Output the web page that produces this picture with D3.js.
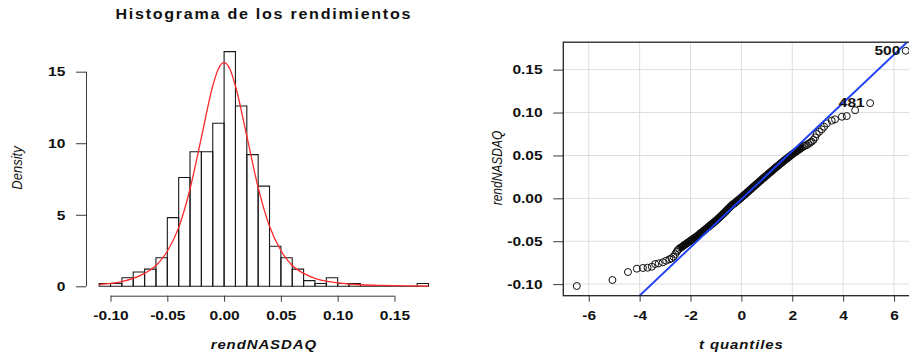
<!DOCTYPE html>
<html>
<head>
<meta charset="utf-8">
<script src="https://cdn.jsdelivr.net/npm/d3@7"></script>
<style>
  html, body { margin: 0; padding: 0; background: #fff; }
  svg { display: block; font-family: "Liberation Sans", Arial, sans-serif; }
</style>
</head>
<body>
<svg id="chart" width="909" height="354"></svg>
<script>
// ---- histogram data (bin width 0.01) ----
const binStart = [-0.11, -0.10, -0.09, -0.08, -0.07, -0.06, -0.05, -0.04, -0.03, -0.02,
  -0.01, 0.00, 0.01, 0.02, 0.03, 0.04, 0.05, 0.06, 0.07, 0.08,
  0.09, 0.10, 0.11, 0.12, 0.13, 0.14, 0.15, 0.16, 0.17];
const binDensity = [0.2, 0.2, 0.6, 1.0, 1.2, 2.0, 4.8, 7.6, 9.4, 9.4,
  11.4, 16.4, 12.6, 9.2, 7.0, 2.8, 2.0, 1.2, 0.4, 0.2,
  0.6, 0.2, 0.2, 0, 0, 0, 0, 0, 0.2];
const binWidth = 0.01;

// fitted density curve (red)
const curveX = [-0.11, -0.10, -0.09, -0.08, -0.07, -0.06, -0.05, -0.04, -0.03, -0.02,
  -0.01, -0.005, 0.00, 0.005, 0.01, 0.02, 0.03, 0.04, 0.05, 0.06,
  0.07, 0.08, 0.09, 0.10, 0.11, 0.12, 0.14, 0.16, 0.18];
const curveY = [0.12, 0.2, 0.33, 0.55, 0.9, 1.45, 2.45, 4.1, 6.8, 10.4,
  14.0, 15.2, 15.65, 15.2, 14.0, 10.5, 6.9, 4.2, 2.5, 1.45,
  0.9, 0.56, 0.36, 0.24, 0.16, 0.11, 0.06, 0.03, 0.02];

const histXTicks = [-0.10, -0.05, 0.00, 0.05, 0.10, 0.15];
const histYTicks = [0, 5, 10, 15];

// ---- QQ plot data ----
const qqTheo = [
  -6.47, -5.07, -4.46, -4.11, -3.87, -3.69, -3.52, -3.39, -3.25, -3.09,
  -2.96, -2.83, -2.75, -2.67, -2.60, -2.54, -2.50,
  -2.45, -2.38, -2.31, -2.24, -2.17, -2.10, -2.03, -1.96, -1.89, -1.82,
  -1.75, -1.68, -1.61, -1.54, -1.47, -1.40, -1.33, -1.26, -1.19, -1.12,
  -1.05, -0.98, -0.91, -0.84, -0.77, -0.70, -0.63, -0.56, -0.49, -0.42,
  -0.35, -0.28, -0.21, -0.14, -0.07, 0.00, 0.07, 0.14, 0.21, 0.28,
  0.35, 0.42, 0.49, 0.56, 0.63, 0.70, 0.77, 0.84, 0.91, 0.98,
  1.05, 1.12, 1.19, 1.26, 1.33, 1.40, 1.47, 1.54, 1.61, 1.68,
  1.75, 1.82, 1.89, 1.96, 2.03, 2.10, 2.17, 2.24, 2.31, 2.38, 2.45,
  2.50, 2.57, 2.63, 2.70, 2.76, 2.83, 2.90, 2.96, 3.06, 3.16,
  3.25, 3.36, 3.55, 3.68, 3.95, 4.14, 4.47, 5.06, 6.46];
const qqSample = [
  -0.1022, -0.0952, -0.0859, -0.0820, -0.0812, -0.0809, -0.0797, -0.0766, -0.0758, -0.0746,
  -0.0727, -0.0711, -0.0700, -0.0680, -0.0650, -0.0622, -0.0605,
  -0.0588, -0.0574, -0.0559, -0.0544, -0.0530, -0.0515, -0.0500, -0.0486, -0.0471, -0.0456,
  -0.0442, -0.0427, -0.0407, -0.0393, -0.0375, -0.0358, -0.0342, -0.0324, -0.0306, -0.0290,
  -0.0273, -0.0255, -0.0236, -0.0216, -0.0196, -0.0177, -0.0157, -0.0135, -0.0113, -0.0093,
  -0.0073, -0.0059, -0.0041, -0.0024, -0.0008, 0.0010, 0.0028, 0.0045, 0.0064, 0.0083,
  0.0101, 0.0120, 0.0138, 0.0156, 0.0175, 0.0193, 0.0211, 0.0230, 0.0248, 0.0265,
  0.0283, 0.0301, 0.0318, 0.0336, 0.0354, 0.0371, 0.0388, 0.0405, 0.0422, 0.0439,
  0.0456, 0.0471, 0.0488, 0.0505, 0.0520, 0.0535, 0.0550, 0.0564, 0.0579, 0.0594, 0.0608,
  0.0615, 0.0621, 0.0635, 0.0648, 0.0660, 0.0680, 0.0711, 0.0749, 0.0776, 0.0804,
  0.0835, 0.0874, 0.0905, 0.0921, 0.0951, 0.0959, 0.1027, 0.1110, 0.1720];
// dense middle part of the cloud (where the circles merge into a band)
const bandFrom = -2.45, bandTo = 2.45;

const qqLabelText = ['481', '500'];
const qqLabelTheo = [5.06, 6.46];
const qqLabelSample = [0.1110, 0.1720];

const qqLineIntercept = -0.001;
const qqLineSlope = 0.0281;

const qqXTicks = [-6, -4, -2, 0, 2, 4, 6];
const qqYTicks = [-0.10, -0.05, 0.00, 0.05, 0.10, 0.15];

// ---- drawing ----
const svg = d3.select('#chart');
const stretch = 1.15;   // the picture is a bit wider than tall text
const axisColor = '#3a3a3a';

const plotTop = 42.2, plotBottom = 295.7;

function hText(x, y, txt, size, opts = {}) {
  return svg.append('text')
    .attr('transform', `translate(${x},${y}) scale(${stretch},1)`)
    .attr('text-anchor', opts.anchor || 'middle')
    .attr('font-size', size)
    .attr('font-weight', opts.weight || 'bold')
    .attr('font-style', opts.style || 'normal')
    .attr('letter-spacing', opts.spacing || 0)
    .attr('fill', '#111')
    .text(txt);
}

function vText(x, y, txt, size) {
  return svg.append('text')
    .attr('transform', `translate(${x},${y}) rotate(-90) scale(1,${stretch})`)
    .attr('text-anchor', 'middle')
    .attr('font-size', size)
    .attr('font-style', 'italic')
    .attr('fill', '#111')
    .text(txt);
}

function styleAxis(g) {
  g.select('.domain').remove();
  g.attr('color', axisColor);
  g.selectAll('line').attr('stroke-width', 1);
  g.selectAll('text')
    .attr('fill', '#111')
    .attr('font-size', 13.5)
    .attr('font-weight', 'bold')
    .attr('font-family', '"Liberation Sans", Arial, sans-serif')
    .attr('transform', `scale(${stretch},1)`);
}

// ===== left: histogram =====
const xH = d3.scaleLinear().domain([-0.1216, 0.1916]).range([86, 441.7]);
const yH = d3.scaleLinear().domain([-0.656, 17.06]).range([plotBottom, plotTop]);

svg.append('g').selectAll('path')
  .data(binStart)
  .join('path')
  .attr('d', (d, i) => {
    const x0 = xH(d), x1 = xH(d + binWidth);
    const y0 = yH(0), y1 = yH(binDensity[i]);
    return `M${x0},${y0}V${y1}H${x1}V${y0}Z`;
  })
  .attr('fill', 'none')
  .attr('stroke', '#1a1a1a')
  .attr('stroke-width', 1.1);

const curveLine = d3.line()
  .x(d => xH(d))
  .y((d, i) => yH(curveY[i]))
  .curve(d3.curveMonotoneX);
svg.append('path')
  .attr('d', curveLine(curveX))
  .attr('fill', 'none')
  .attr('stroke', '#ff2a2a')
  .attr('stroke-width', 1.3);

svg.append('g')
  .attr('transform', `translate(86,0)`)
  .call(d3.axisLeft(yH).tickValues(histYTicks).tickSize(10).tickPadding(8).tickFormat(d => String(d)))
  .call(styleAxis);
svg.append('line')
  .attr('x1', 86.5).attr('x2', 86.5)
  .attr('y1', yH(histYTicks[0])).attr('y2', yH(histYTicks[histYTicks.length - 1]))
  .attr('stroke', axisColor);

svg.append('g')
  .attr('transform', `translate(0,${plotBottom})`)
  .call(d3.axisBottom(xH).tickValues(histXTicks).tickSize(6).tickPadding(9).tickFormat(d => d.toFixed(2)))
  .call(styleAxis);
svg.append('line')
  .attr('x1', xH(histXTicks[0])).attr('x2', xH(histXTicks[histXTicks.length - 1]))
  .attr('y1', plotBottom + 0.5).attr('y2', plotBottom + 0.5)
  .attr('stroke', axisColor);

hText(263.8, 19, 'Histograma de los rendimientos', 14, { spacing: 1.5 });
hText(263.8, 349, 'rendNASDAQ', 13, { style: 'italic', spacing: 0.8 });
vText(22.4, 168, 'Density', 13);

// ===== right: QQ plot =====
const qL = 563.3, qR = 919.5;
const xQ = d3.scaleLinear().domain([-7.0, 7.0]).range([qL, qR]);
const yQ = d3.scaleLinear().domain([-0.1135, 0.182]).range([plotBottom, plotTop]);

svg.append('clipPath').attr('id', 'qqclip')
  .append('rect')
  .attr('x', qL).attr('y', plotTop)
  .attr('width', qR - qL).attr('height', plotBottom - plotTop);

// grid
svg.append('g').selectAll('line')
  .data(qqXTicks)
  .join('line')
  .attr('x1', d => xQ(d)).attr('x2', d => xQ(d))
  .attr('y1', plotTop).attr('y2', plotBottom)
  .attr('stroke', '#dedede').attr('stroke-width', 1);
svg.append('g').selectAll('line')
  .data(qqYTicks)
  .join('line')
  .attr('x1', qL).attr('x2', qR)
  .attr('y1', d => yQ(d)).attr('y2', d => yQ(d))
  .attr('stroke', '#dedede').attr('stroke-width', 1);

const plot = svg.append('g').attr('clip-path', 'url(#qqclip)');

// merged band of circles in the middle of the cloud
const bandIdx = d3.range(qqTheo.length).filter(i => qqTheo[i] >= bandFrom && qqTheo[i] <= bandTo);
plot.append('path')
  .attr('d', d3.line().x(i => xQ(qqTheo[i])).y(i => yQ(qqSample[i]))(bandIdx))
  .attr('fill', 'none')
  .attr('stroke', '#000')
  .attr('stroke-width', 7.5);

plot.append('g').selectAll('circle')
  .data(qqTheo)
  .join('circle')
  .attr('cx', d => xQ(d))
  .attr('cy', (d, i) => yQ(qqSample[i]))
  .attr('r', 3.5)
  .attr('fill', 'none')
  .attr('stroke', '#111')
  .attr('stroke-width', 1);

plot.append('line')
  .attr('x1', xQ(-7)).attr('x2', xQ(7))
  .attr('y1', yQ(qqLineIntercept + qqLineSlope * -7))
  .attr('y2', yQ(qqLineIntercept + qqLineSlope * 7))
  .attr('stroke', '#1e3ff5')
  .attr('stroke-width', 1.9);

qqLabelText.forEach((t, i) => {
  hText(xQ(qqLabelTheo[i]) - 5.5, yQ(qqLabelSample[i]) + 4, t, 13.5, { anchor: 'end' });
});

// axes + box
svg.append('g')
  .attr('transform', `translate(${qL},0)`)
  .call(d3.axisLeft(yQ).tickValues(qqYTicks).tickSize(10).tickPadding(8).tickFormat(d => d.toFixed(2)))
  .call(styleAxis);
svg.append('g')
  .attr('transform', `translate(0,${plotBottom})`)
  .call(d3.axisBottom(xQ).tickValues(qqXTicks).tickSize(6).tickPadding(9).tickFormat(d => String(d)))
  .call(styleAxis);

svg.append('rect')
  .attr('x', qL).attr('y', plotTop)
  .attr('width', qR - qL).attr('height', plotBottom - plotTop)
  .attr('fill', 'none')
  .attr('stroke', '#222')
  .attr('stroke-width', 1.3);

hText(xQ(0), 349, 't quantiles', 13, { style: 'italic', spacing: 0.8 });
vText(501.6, 168, 'rendNASDAQ', 12);
</script>
</body>
</html>
